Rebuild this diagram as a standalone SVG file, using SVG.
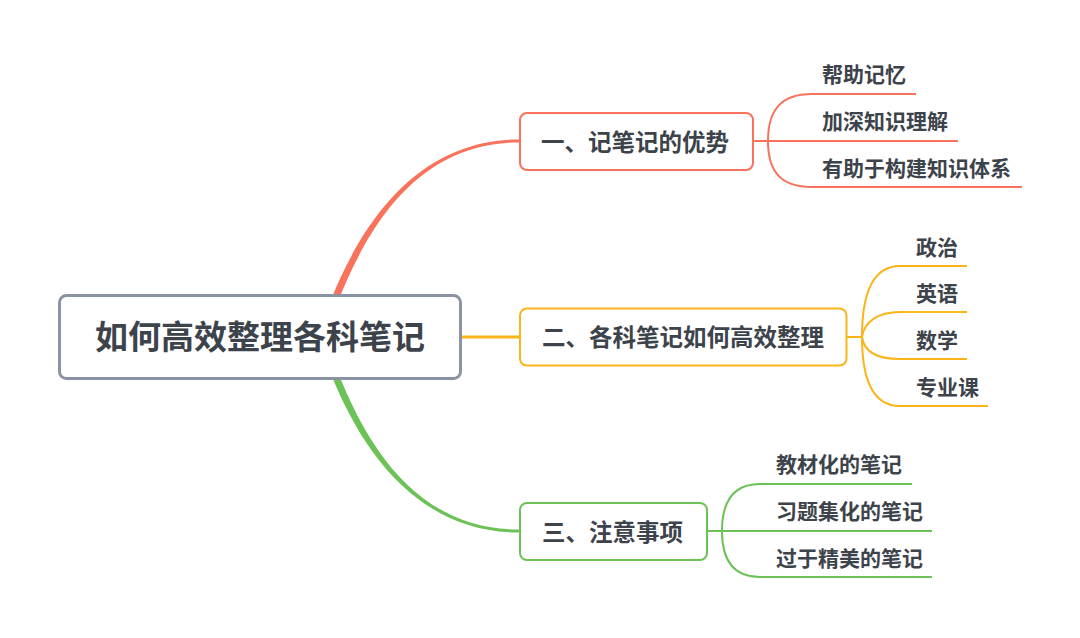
<svg xmlns="http://www.w3.org/2000/svg" width="1080" height="638" viewBox="0 0 1080 638">
<style>
text{font-family:"Noto Sans CJK SC","Noto Sans",sans-serif;font-weight:bold;fill:#3d434b}
.root{font-size:33px}
.br{font-size:23.5px}
.leaf{font-size:21px}
.red{stroke:#f9725b}
.yel{stroke:#fbb41a}
.grn{stroke:#6cc257}
.ln{fill:none;stroke-width:2}
.box{fill:#fff;stroke-width:2}
</style>
<rect width="1080" height="638" fill="#fff"/>
<g id="connectors">
<path d="M330.7,300.7 C363,219.3 420,139.5 519,139.5 L519,142.5 C420,142.5 369,222.7 337.3,303.3 Z" fill="#f9725b"/>
<path d="M330.7,373.3 C363,454.7 420,532.5 519,532.5 L519,529.5 C420,529.5 369,451.3 337.3,370.7 Z" fill="#6cc257"/>
<path d="M461,337 L520,337" class="yel" fill="none" stroke-width="3"/>
<g class="ln red">
<path d="M753,141 L958,141"/>
<path d="M768,141 C768,110 781,94 812,94 L916,94"/>
<path d="M768,141 C768,172 781,187 812,187 L1022,187"/>
</g>
<g class="ln yel">
<path d="M847,337 L862,337"/>
<path d="M862,337 C862,290 875,266 900,266 L967,266"/>
<path d="M862,337 C864,322 878,312 900,312 L967,312"/>
<path d="M862,337 C864,352 878,359 900,359 L967,359"/>
<path d="M862,337 C862,384 875,406 900,406 L988,406"/>
</g>
<g class="ln grn">
<path d="M707,531 L932,531"/>
<path d="M722,531 C722,500 735,484 760,484 L912,484"/>
<path d="M722,531 C722,562 735,577 760,577 L932,577"/>
</g>
</g>
<g id="root">
<rect x="59.5" y="295.5" width="401" height="83" rx="7" fill="#fff" stroke="#8a93a3" stroke-width="3"/>
<text class="root" x="260" y="348.5" text-anchor="middle">如何高效整理各科笔记</text>
</g>
<g id="branch1">
<rect class="box red" x="520" y="113" width="233" height="57" rx="7"/>
<text class="br" x="541" y="150.5">一、记笔记的优势</text>
</g>
<g id="branch2">
<rect class="box yel" x="520" y="308.5" width="326.5" height="57" rx="7"/>
<text class="br" x="542" y="346">二、各科笔记如何高效整理</text>
</g>
<g id="branch3">
<rect class="box grn" x="520" y="503" width="187" height="57" rx="7"/>
<text class="br" x="542" y="541.4">三、注意事项</text>
</g>
<g id="leaf1-1"><text class="leaf" x="822" y="82">帮助记忆</text></g>
<g id="leaf1-2"><text class="leaf" x="822" y="129">加深知识理解</text></g>
<g id="leaf1-3"><text class="leaf" x="822" y="175.5">有助于构建知识体系</text></g>
<g id="leaf2-1"><text class="leaf" x="916" y="254.5">政治</text></g>
<g id="leaf2-2"><text class="leaf" x="916" y="300.5">英语</text></g>
<g id="leaf2-3"><text class="leaf" x="916" y="347.5">数学</text></g>
<g id="leaf2-4"><text class="leaf" x="916" y="394.5">专业课</text></g>
<g id="leaf3-1"><text class="leaf" x="776" y="472">教材化的笔记</text></g>
<g id="leaf3-2"><text class="leaf" x="776" y="519">习题集化的笔记</text></g>
<g id="leaf3-3"><text class="leaf" x="776" y="565.5">过于精美的笔记</text></g>
</svg>
